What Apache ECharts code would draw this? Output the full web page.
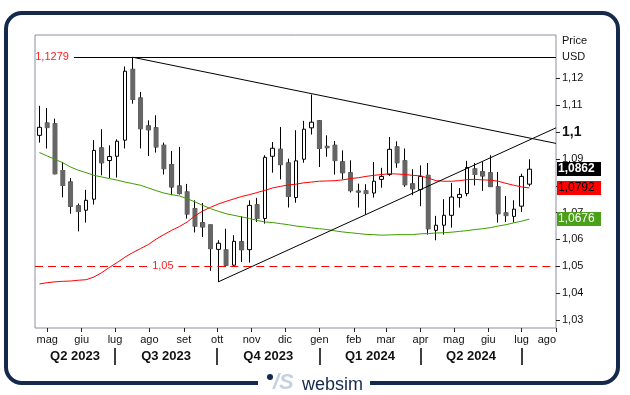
<!DOCTYPE html>
<html><head><meta charset="utf-8">
<script src="https://cdn.jsdelivr.net/npm/echarts@6/dist/echarts.min.js"></script>
<style>html,body{margin:0;padding:0;background:#fff}#c{width:630px;height:395px}</style>
</head><body><div id="c"></div>
<script>
// ---- data (weekly EUR/USD) ----
const weeks = ['2023-04-24','2023-05-01','2023-05-08','2023-05-15','2023-05-22','2023-05-29','2023-06-05','2023-06-12','2023-06-19','2023-06-26',
'2023-07-03','2023-07-10','2023-07-17','2023-07-24','2023-07-31','2023-08-07','2023-08-14','2023-08-21','2023-08-28','2023-09-04',
'2023-09-11','2023-09-18','2023-09-25','2023-10-02','2023-10-09','2023-10-16','2023-10-23','2023-10-30','2023-11-06','2023-11-13',
'2023-11-20','2023-11-27','2023-12-04','2023-12-11','2023-12-18','2023-12-25','2024-01-01','2024-01-08','2024-01-15','2024-01-22',
'2024-01-29','2024-02-05','2024-02-12','2024-02-19','2024-02-26','2024-03-04','2024-03-11','2024-03-18','2024-03-25','2024-04-01',
'2024-04-08','2024-04-15','2024-04-22','2024-04-29','2024-05-06','2024-05-13','2024-05-20','2024-05-27','2024-06-03','2024-06-10',
'2024-06-17','2024-06-24','2024-07-01','2024-07-08'];
const openP = [1.0988,1.1034,1.1031,1.0857,1.0814,1.0725,1.0709,1.0750,1.0941,1.0894,1.0910,1.0970,1.1234,1.1127,1.1023,1.1016,1.0951,1.0879,1.0799,1.0777,
1.0715,1.0662,1.0654,1.0563,1.0561,1.0504,1.0591,1.0562,1.0729,1.0678,1.0910,1.0936,1.0885,1.0756,1.0899,1.1016,1.1042,1.0947,1.0951,1.0889,
1.0848,1.0780,1.0781,1.0773,1.0824,1.0842,1.0945,1.0893,1.0807,1.0786,1.0839,1.0634,1.0653,1.0690,1.0756,1.0771,1.0863,1.0852,1.0848,1.0796,
1.0699,1.0686,1.0724,1.0806];
const closeP = [1.1018,1.1017,1.0845,1.0801,1.0724,1.0704,1.0746,1.0932,1.0886,1.0909,1.0966,1.1227,1.1122,1.1013,1.1009,1.0945,1.0864,1.0796,1.0771,1.0695,
1.0650,1.0647,1.0566,1.0586,1.0504,1.0593,1.0562,1.0727,1.0678,1.0906,1.0940,1.0879,1.0760,1.0893,1.1011,1.1037,1.0939,1.0942,1.0894,1.0849,
1.0782,1.0777,1.0771,1.0817,1.0835,1.0936,1.0886,1.0804,1.0789,1.0835,1.0640,1.0653,1.0690,1.0758,1.0768,1.0868,1.0842,1.0837,1.0797,1.0696,
1.0689,1.0713,1.0835,1.0862];
const lowP = [1.0961,1.0939,1.0843,1.0757,1.0696,1.0630,1.0663,1.0730,1.0839,1.0829,1.0831,1.0939,1.1106,1.0939,1.0911,1.0924,1.0842,1.0765,1.0767,1.0678,
1.0626,1.0609,1.0483,1.0442,1.0498,1.0501,1.0516,1.0514,1.0665,1.0659,1.0849,1.0824,1.0719,1.0737,1.0886,1.0991,1.0870,1.0908,1.0842,1.0824,
1.0775,1.0719,1.0693,1.0756,1.0793,1.0837,1.0867,1.0796,1.0765,1.0724,1.0618,1.0597,1.0618,1.0644,1.0719,1.0761,1.0801,1.0781,1.0796,1.0663,
1.0665,1.0663,1.0703,1.0798];
const highP = [1.1098,1.1090,1.1050,1.0889,1.0829,1.0734,1.0785,1.0970,1.1011,1.0951,1.0973,1.1245,1.1279,1.1150,1.1044,1.1063,1.0961,1.0930,1.0945,1.0807,
1.0746,1.0736,1.0654,1.0597,1.0640,1.0616,1.0686,1.0746,1.0755,1.0914,1.0963,1.1019,1.0901,1.1007,1.1042,1.1140,1.1044,1.0988,1.0967,1.0932,
1.0895,1.0808,1.0806,1.0889,1.0867,1.0982,1.0966,1.0939,1.0862,1.0876,1.0885,1.0688,1.0750,1.0811,1.0792,1.0893,1.0885,1.0889,1.0914,1.0852,
1.0762,1.0746,1.0845,1.0899];
const maRed = [1.0434,1.0439,1.0442,1.0444,1.0445,1.0448,1.0450,1.0460,1.0476,1.0496,1.0514,1.0534,1.0551,1.0566,1.0581,1.0601,1.0618,1.0634,1.0648,1.0665,
1.0688,1.0706,1.0720,1.0732,1.0742,1.0751,1.0760,1.0767,1.0775,1.0783,1.0792,1.0798,1.0803,1.0806,1.0811,1.0814,1.0817,1.0818,1.0819,1.0822,
1.0827,1.0830,1.0835,1.0839,1.0842,1.0845,1.0844,1.0842,1.0839,1.0837,1.0829,1.0819,1.0817,1.0817,1.0819,1.0823,1.0824,1.0822,1.0821,1.0817,
1.0809,1.0802,1.0796,1.0792];
const maGreen = [1.0924,1.0911,1.0899,1.0886,1.0870,1.0858,1.0849,1.0839,1.0833,1.0827,1.0821,1.0814,1.0808,1.0802,1.0792,1.0782,1.0773,1.0767,1.0762,1.0752,
1.0740,1.0727,1.0715,1.0705,1.0696,1.0690,1.0684,1.0678,1.0671,1.0665,1.0663,1.0659,1.0655,1.0650,1.0647,1.0643,1.0640,1.0637,1.0632,1.0628,
1.0625,1.0622,1.0619,1.0618,1.0616,1.0617,1.0618,1.0618,1.0618,1.0621,1.0622,1.0624,1.0625,1.0627,1.0630,1.0633,1.0637,1.0640,1.0644,1.0650,
1.0655,1.0662,1.0668,1.0676];
const yTicks = [1.03,1.04,1.05,1.06,1.07,1.08,1.09,1.10,1.11,1.12];
const monthTicks = ['2023-05-01','2023-06-01','2023-07-01','2023-08-01','2023-09-01','2023-10-01','2023-11-01','2023-12-01','2024-01-01','2024-02-01',
'2024-03-01','2024-04-01','2024-05-01','2024-06-01','2024-07-01','2024-08-01'];
const monthNames = ['gen','feb','mar','apr','mag','giu','lug','ago','set','ott','nov','dic'];
const quarterStarts = ['2023-07-01','2023-10-01','2024-01-01','2024-04-01','2024-07-01'];
const quarterLabels = ['Q2 2023','Q3 2023','Q4 2023','Q1 2024','Q2 2024'];
const xMin = '2023-04-20', xMax = '2024-08-01';
const resistanceLevel = 1.1279, resistanceFrom = '2023-05-25';
const supportLevel = 1.05, supportGap = ['2023-07-30','2023-08-27'];
const downTrend = [['2023-07-17',1.1279],['2024-08-01',1.0958]];
const upTrend = [['2023-10-02',1.0442],['2024-08-01',1.1016]];

// ---- helpers ----
const DAY = 86400000;
const T = s => { const [y,m,d] = s.split('-').map(Number); return Date.UTC(y, m-1, d) / DAY; };
const fmt = (v, n) => String(+v.toFixed(n)).replace('.', ',');
const xs = weeks.map(T);
const candles = xs.map((t,i)=>[t, openP[i], closeP[i], lowP[i], highP[i]]);
const bounds = [T(xMin)].concat(quarterStarts.map(T));
const qMids = bounds.slice(0,-1).map((b,i)=>(b+bounds[i+1])/2);
const mTicks = monthTicks.map(T);
const FONT = 'Liberation Sans, Arial, sans-serif';
const nearest = (arr, v) => { let b=0; arr.forEach((m,i)=>{ if(Math.abs(m-v)<Math.abs(arr[b]-v)) b=i; }); return b; };

const chart = echarts.init(document.getElementById('c'));
const option = {
  animation:false,
  grid:{left:35, top:35, width:521, height:293, show:true, borderColor:'#8e8e9e', borderWidth:1, backgroundColor:'#fff'},
  xAxis:[{
    type:'value', min:T(xMin), max:T(xMax), scale:true,
    axisLine:{show:false}, splitLine:{show:false},
    axisTick:{show:true, customValues:mTicks, length:4, lineStyle:{color:'#222'}},
    axisLabel:{customValues:mTicks, margin:6, fontSize:11, fontFamily:FONT, color:'#111',
      alignMaxLabel:'right', hideOverlap:false, showMaxLabel:true, showMinLabel:true,
      formatter:v=>monthNames[new Date(mTicks[nearest(mTicks, v)]*DAY).getUTCMonth()]}
  },{
    type:'value', min:T(xMin), max:T(xMax), scale:true, position:'bottom', offset:20,
    axisLine:{show:false}, splitLine:{show:false},
    axisTick:{show:true, customValues:quarterStarts.map(T), length:17, lineStyle:{color:'#000', width:1.5}},
    axisLabel:{customValues:qMids, margin:2, fontSize:13, fontWeight:'bold', fontFamily:FONT, color:'#111', hideOverlap:false,
      formatter:v=>quarterLabels[nearest(qMids, v)]}
  }],
  yAxis:{
    type:'value', position:'right', min:1.027, max:1.1362, scale:true,
    axisLine:{show:false}, splitLine:{show:false},
    axisTick:{show:true, customValues:yTicks, length:4, lineStyle:{color:'#222'}},
    axisLabel:{customValues:yTicks, margin:6, fontSize:11, fontFamily:FONT, color:'#111',
      formatter:v=> Math.abs(v-1.1)<1e-9 ? '{b|'+fmt(v,2)+'}' : fmt(v,2),
      rich:{b:{fontSize:14, fontWeight:'bold', fontFamily:FONT, color:'#111'}}}
  },
  series:[{
    type:'candlestick', xAxisIndex:0, data:candles, barWidth:4, z:2,
    itemStyle:{color:'#ffffff', color0:'#666666', borderColor:'#000', borderColor0:'#000', borderWidth:1},
    markLine:{symbol:'none', silent:true, animation:false,
      data:[
        [{coord:[T(resistanceFrom), resistanceLevel], lineStyle:{color:'#000', width:1, type:'solid'},
          label:{show:true, position:'start', distance:5, formatter:fmt(resistanceLevel,4), color:'#ff2020', fontSize:11, fontFamily:FONT}},
         {coord:[T(xMax), resistanceLevel]}],
        [{coord:[T(xMin), supportLevel], lineStyle:{color:'#ff0000', width:1, type:[8,5]},
          label:{show:true, position:'end', distance:5, formatter:fmt(supportLevel,2), color:'#ff2020', fontSize:11, fontFamily:FONT}},
         {coord:[T(supportGap[0]), supportLevel]}],
        [{coord:[T(supportGap[1]), supportLevel], lineStyle:{color:'#ff0000', width:1, type:[8,5]}, label:{show:false}},
         {coord:[T(xMax), supportLevel]}],
        [{coord:[T(downTrend[0][0]), downTrend[0][1]], lineStyle:{color:'#000', width:1, type:'solid'}, label:{show:false}},
         {coord:[T(downTrend[1][0]), downTrend[1][1]]}],
        [{coord:[T(upTrend[0][0]), upTrend[0][1]], lineStyle:{color:'#000', width:1, type:'solid'}, label:{show:false}},
         {coord:[T(upTrend[1][0]), upTrend[1][1]]}]
      ]}
  },{
    type:'custom', xAxisIndex:0, data:candles, z:3, silent:true,
    renderItem:(params, api)=>{
      const o = api.value(1), c = api.value(2);
      if (c >= o) return null;
      const p1 = api.coord([api.value(0), o]), p2 = api.coord([api.value(0), c]);
      return {type:'rect', shape:{x:p1[0]-2.5, y:p1[1]-0.5, width:5, height:p2[1]-p1[1]+1}, style:{fill:'#666666'}};
    }
  },{
    type:'line', xAxisIndex:0, data:xs.map((t,i)=>[t, maRed[i]]), showSymbol:false, z:4,
    lineStyle:{color:'#ff0000', width:1}
  },{
    type:'line', xAxisIndex:0, data:xs.map((t,i)=>[t, maGreen[i]]), showSymbol:false, z:4,
    lineStyle:{color:'#3f9d00', width:1}
  }]
};
chart.setOption(option);

const gx = chart.convertToPixel({xAxisIndex:0}, T(xMax));
const tags = [
  {v:closeP[closeP.length-1], fill:'#000000', color:'#ffffff', bold:true},
  {v:maRed[maRed.length-1], fill:'#ff0000', color:'#000000', bold:false},
  {v:maGreen[maGreen.length-1], fill:'#4ba01a', color:'#ffffff', bold:false}
];
const graphics = [
  {type:'rect', z:0, shape:{x:6, y:13, width:612, height:370, r:16}, style:{fill:null, stroke:'#14294c', lineWidth:4}},
  {type:'rect', z:1, shape:{x:258, y:376, width:112, height:14}, style:{fill:'#ffffff'}},
  {type:'circle', z:2, shape:{cx:270, cy:377, r:3}, style:{fill:'#14294c'}},
  {type:'text', z:2, x:273, y:394, style:{text:'/S', fill:'#c6d1de', font:'italic bold 22px '+FONT, textVerticalAlign:'bottom'}},
  {type:'text', z:2, x:302, y:394, style:{text:'websim', fill:'#14294c', font:'18px '+FONT, textVerticalAlign:'bottom'}},
  {type:'text', z:2, x:562, y:41, style:{text:'Price', fill:'#111', font:'11px '+FONT, textVerticalAlign:'middle'}},
  {type:'text', z:2, x:562, y:57, style:{text:'USD', fill:'#111', font:'11px '+FONT, textVerticalAlign:'middle'}}
];
tags.forEach(t=>{
  const py = chart.convertToPixel({yAxisIndex:0}, t.v);
  graphics.push({type:'rect', z:5, shape:{x:gx+1, y:Math.round(py)-7, width:44, height:14}, style:{fill:t.fill}});
  graphics.push({type:'text', z:6, x:gx+2, y:Math.round(py), style:{text:fmt(t.v,4), fill:t.color,
    font:(t.bold?'bold ':'')+'12px '+FONT, textVerticalAlign:'middle'}});
});
chart.setOption({graphic:graphics});
</script></body></html>
